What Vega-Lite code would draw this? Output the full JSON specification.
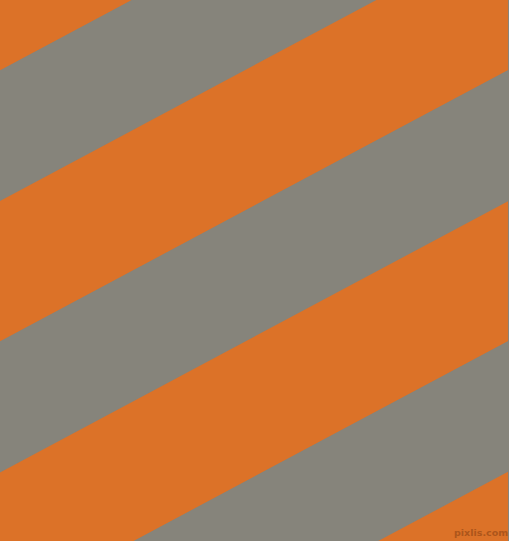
{
  "$schema": "https://vega.github.io/schema/vega-lite/v6.json",
  "width": 509,
  "height": 541,
  "autosize": {"type": "fit", "contains": "padding"},
  "padding": 0,
  "background": "#86847b",
  "config": {"view": {"stroke": null}},
  "datasets": {
    "stripes": [
      {"stripe": 1, "kind": "orange", "x": 0, "y": -70, "y2": 70.5},
      {"stripe": 1, "kind": "orange", "x": 509, "y": -341.3, "y2": -200.8},
      {"stripe": 2, "kind": "gray", "x": 0, "y": 70.5, "y2": 201},
      {"stripe": 2, "kind": "gray", "x": 509, "y": -200.8, "y2": -70.3},
      {"stripe": 3, "kind": "orange", "x": 0, "y": 201, "y2": 341.5},
      {"stripe": 3, "kind": "orange", "x": 509, "y": -70.3, "y2": 70.2},
      {"stripe": 4, "kind": "gray", "x": 0, "y": 341.5, "y2": 472.5},
      {"stripe": 4, "kind": "gray", "x": 509, "y": 70.2, "y2": 201.2},
      {"stripe": 5, "kind": "orange", "x": 0, "y": 472.5, "y2": 612.5},
      {"stripe": 5, "kind": "orange", "x": 509, "y": 201.2, "y2": 341.2},
      {"stripe": 6, "kind": "gray", "x": 0, "y": 612.5, "y2": 743},
      {"stripe": 6, "kind": "gray", "x": 509, "y": 341.2, "y2": 471.7},
      {"stripe": 7, "kind": "orange", "x": 0, "y": 743, "y2": 883},
      {"stripe": 7, "kind": "orange", "x": 509, "y": 471.7, "y2": 611.7}
    ],
    "watermark": [
      {"label": "pixlis.com", "x": 482, "y": 533}
    ]
  },
  "layer": [
    {
      "data": {"name": "stripes"},
      "mark": {"type": "area", "clip": true, "orient": "vertical"},
      "encoding": {
        "x": {"field": "x", "type": "quantitative", "axis": null,
              "scale": {"domain": [0, 509], "nice": false, "zero": false}},
        "y": {"field": "y", "type": "quantitative", "axis": null, "stack": null,
              "scale": {"domain": [0, 541], "nice": false, "zero": false, "reverse": true}},
        "y2": {"field": "y2"},
        "detail": {"field": "stripe", "type": "nominal"},
        "color": {"field": "kind", "type": "nominal", "legend": null,
                  "scale": {"domain": ["orange", "gray"], "range": ["#dc7228", "#86847b"]}}
      }
    },
    {
      "data": {"name": "watermark"},
      "mark": {"type": "text", "font": "DejaVu Sans", "fontSize": 9.5, "fontWeight": "bold",
               "color": "#a8531a", "opacity": 0.9, "baseline": "middle", "align": "center"},
      "encoding": {
        "x": {"field": "x", "type": "quantitative"},
        "y": {"field": "y", "type": "quantitative"},
        "text": {"field": "label"}
      }
    }
  ]
}
